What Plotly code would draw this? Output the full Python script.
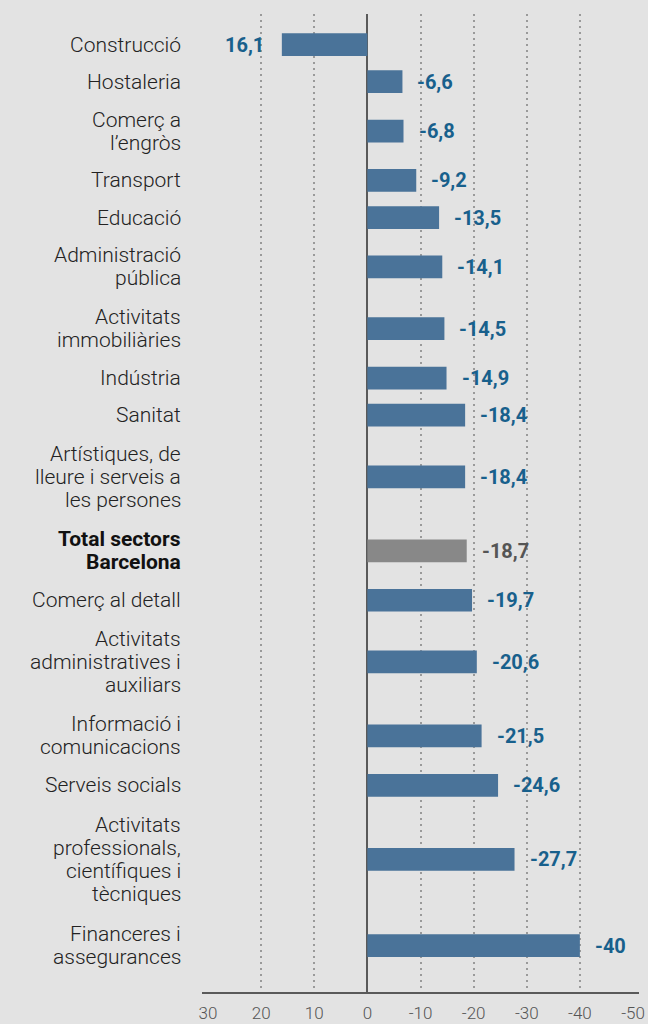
import plotly.graph_objects as go

# ---------------- data ----------------
categories = [
    "Construcció",
    "Hostaleria",
    "Comerç a\nl’engròs",
    "Transport",
    "Educació",
    "Administració\npública",
    "Activitats\nimmobiliàries",
    "Indústria",
    "Sanitat",
    "Artístiques, de\nlleure i serveis a\nles persones",
    "Total sectors\nBarcelona",
    "Comerç al detall",
    "Activitats\nadministratives i\nauxiliars",
    "Informació i\ncomunicacions",
    "Serveis socials",
    "Activitats\nprofessionals,\ncientífiques i\ntècniques",
    "Financeres i\nassegurances",
]
values = [16.1, -6.6, -6.8, -9.2, -13.5, -14.1, -14.5, -14.9, -18.4, -18.4,
          -18.7, -19.7, -20.6, -21.5, -24.6, -27.7, -40]
total_category = "Total sectors\nBarcelona"

tick_vals = [30, 20, 10, 0, -10, -20, -30, -40, -50]
tick_text = ["30", "20", "10", "0", "-10", "-20", "-30", "-40", "-50"]

# ---------------- style ----------------
W, H = 648, 1024
M_L, M_R, M_T, M_B = 208, 15, 14, 31
PLOT_H = H - M_T - M_B
PLOT_W = W - M_L - M_R

BG = "#e3e3e3"
BAR_BLUE = "#4a7399"
BAR_GREY = "#888888"
LABEL_BLUE = "#18608c"
LABEL_GREY = "#555555"

LINE_H = 24.6      # row growth per label line (px)
ROW_PAD = 12.5     # extra per row (px)
TOP_PAD = 12       # px above first row
TEXT_LINE = 23     # label line spacing (px)
BAR_W = 22.7       # bar thickness (px)

# row centres derived from number of label lines
n_lines = [len(c.split("\n")) for c in categories]
row_h = [ROW_PAD + LINE_H * n for n in n_lines]
centers = []
acc = TOP_PAD
for h in row_h:
    centers.append(acc + h / 2)
    acc += h

is_total = [c == total_category for c in categories]
bar_colors = [BAR_GREY if t else BAR_BLUE for t in is_total]

fig = go.Figure()
fig.add_trace(go.Bar(
    x=values, y=centers, orientation="h", width=BAR_W,
    marker=dict(color=bar_colors, line=dict(width=0)),
    hoverinfo="skip",
))

annotations = []
label_x = -(M_L - 183) / PLOT_W
for cat, yc, tot in zip(categories, centers, is_total):
    lines = cat.split("\n")
    n = len(lines)
    for i, ln in enumerate(lines):
        annotations.append(dict(
            x=label_x, xref="paper", y=yc, yref="y",
            text=f"<b>{ln}</b>" if tot else ln,
            xanchor="right", yanchor="middle", showarrow=False,
            yshift=((n - 1) / 2 - i) * TEXT_LINE,
            font=dict(family="Roboto", size=21, color="#111111" if tot else "#222222",
                      weight=700 if tot else 300),
        ))

for v, yc, tot in zip(values, centers, is_total):
    txt = f"{v:g}".replace(".", ",")
    annotations.append(dict(
        x=v, xref="x", y=yc, yref="y", text=f"<b>{txt}</b>",
        xanchor="left" if v < 0 else "right", yanchor="middle",
        xshift=13 if v < 0 else -16, showarrow=False,
        font=dict(family="Roboto", size=20, color=LABEL_GREY if tot else LABEL_BLUE),
    ))

fig.update_layout(
    width=W, height=H,
    margin=dict(l=M_L, r=M_R, t=M_T, b=M_B, pad=0, autoexpand=False),
    paper_bgcolor=BG, plot_bgcolor=BG,
    showlegend=False,
    annotations=annotations,
    shapes=[dict(type="line", xref="paper", yref="paper",
                 x0=-6 / PLOT_W, x1=1 + 6 / PLOT_W, y0=0, y1=0,
                 line=dict(color="#5a5a5a", width=2))],
    xaxis=dict(
        range=[30, -50], tickvals=tick_vals, ticktext=tick_text,
        showgrid=True, gridcolor="#9a9a9a", gridwidth=1.5, griddash="1.5px,4.5px",
        zeroline=True, zerolinecolor="#5a5a5a", zerolinewidth=2,
        showline=False, ticks="", ticklabelstandoff=8, automargin=False,
        tickfont=dict(family="Roboto", size=17, color="#555555", weight=300),
    ),
    yaxis=dict(
        range=[PLOT_H, 0], showgrid=False, zeroline=False, showticklabels=False,
        showline=False, ticks="", automargin=False,
    ),
)

fig.write_html("out.html")
